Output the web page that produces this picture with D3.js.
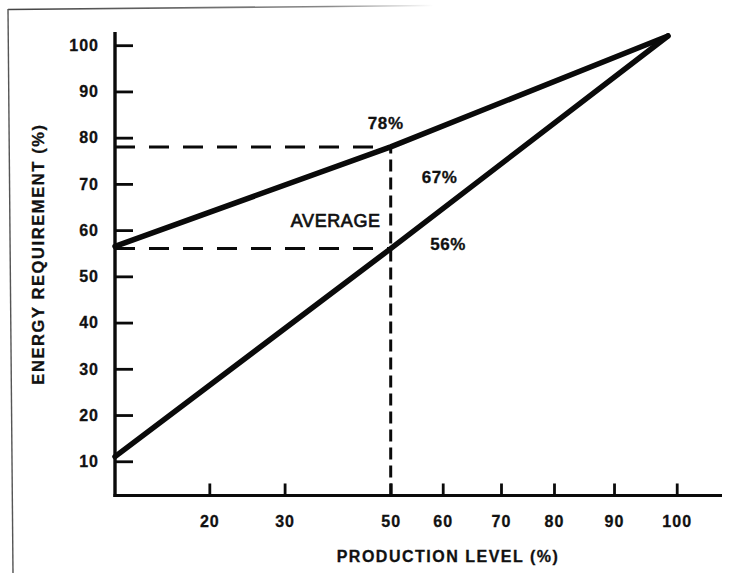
<!DOCTYPE html>
<html>
<head>
<meta charset="utf-8">
<script src="https://cdn.jsdelivr.net/npm/d3@7"></script>
<style>
  html, body { margin: 0; padding: 0; background: #fff; }
  svg { display: block; }
  text { font-family: "Liberation Sans", Arial, Helvetica, sans-serif; fill: #111; stroke: #111; stroke-width: 0.3px; }
</style>
</head>
<body>
<svg id="chart" width="735" height="573"></svg>
<script>
// ---------- data ----------
const yTickValues = [10, 20, 30, 40, 50, 60, 70, 80, 90, 100];
const xTickValues = [20, 30, 50, 60, 70, 80, 90, 100];
// non-uniform (hand drawn) production axis: breakpoints and their relative positions
const xStops     = [10, 20, 30, 50, 60, 70, 80, 90, 100, 107];
const xStopFrac  = [0, 0.1554, 0.2794, 0.4542, 0.5399, 0.6359, 0.7232, 0.8221, 0.9254, 1];

const production  = [10, 50, 98.6];
const energyUpper = [56.5, 78, 102];
const energyLower = [11, 56, 102];

const averageLevel = 50;
const averageUpper = 78;
const averageLower = 56;

const annotationTexts = ["78%", "67%", "56%", "AVERAGE"];
const xAxisTitle = "PRODUCTION LEVEL (%)";
const yAxisTitle = "ENERGY REQUIREMENT (%)";

// ---------- layout ----------
const W = 735, H = 573;
const left = 115, right = 722;
const svg = d3.select("#chart");

const y = d3.scaleLinear().domain([0, 100]).range([507.5, 45.2]);
const x = d3.scaleLinear()
  .domain(xStops)
  .range(xStopFrac.map(f => left + f * (right - left)));

const axisY = y(2.6);
const ink = "#0a0a0a";

// scan frame (top and left edge of the page)
const defs = svg.append("defs");
const grad = defs.append("linearGradient").attr("id", "topfade")
  .attr("x1", "0").attr("x2", "1").attr("y1", "0").attr("y2", "0");
grad.append("stop").attr("offset", "0").attr("stop-color", "#444");
grad.append("stop").attr("offset", "0.75").attr("stop-color", "#888");
grad.append("stop").attr("offset", "1").attr("stop-color", "#fff");
svg.append("path")
  .attr("d", `M8,9.5 L${W * 0.59},5.5`)
  .attr("stroke", "url(#topfade)").attr("stroke-width", 1.6).attr("fill", "none");
svg.append("line")
  .attr("x1", 8).attr("y1", 9).attr("x2", 13).attr("y2", H)
  .attr("stroke", "#555").attr("stroke-width", 1.4);

// ---------- axes ----------
const gY = svg.append("g").attr("transform", `translate(${left},0)`)
  .call(d3.axisRight(y).tickValues(yTickValues).tickSize(18).tickFormat(""));
gY.select(".domain").remove();
gY.selectAll(".tick line").attr("stroke", ink).attr("stroke-width", 2.8);

const gX = svg.append("g").attr("transform", `translate(0,${axisY})`)
  .call(d3.axisTop(x).tickValues(xTickValues).tickSize(12).tickFormat(""));
gX.select(".domain").remove();
gX.selectAll(".tick line").attr("stroke", ink).attr("stroke-width", 2.8);

// axis lines
svg.append("line")
  .attr("x1", left).attr("x2", left).attr("y1", 32).attr("y2", axisY + 1.5)
  .attr("stroke", ink).attr("stroke-width", 3.4);
svg.append("line")
  .attr("x1", left - 1.5).attr("x2", right).attr("y1", axisY).attr("y2", axisY)
  .attr("stroke", ink).attr("stroke-width", 2.8);

// tick labels
svg.append("g").selectAll("text").data(yTickValues).join("text")
  .attr("x", 99).attr("y", d => y(d)).attr("dy", "0.36em")
  .attr("text-anchor", "end")
  .style("font-size", "16px").style("font-weight", "bold").style("letter-spacing", "1px")
  .text(d => d);

svg.append("g").selectAll("text").data(xTickValues).join("text")
  .attr("x", d => x(d) + 0.5).attr("y", 527)
  .attr("text-anchor", "middle")
  .style("font-size", "16px").style("font-weight", "bold").style("letter-spacing", "1px")
  .text(d => d);

// axis titles
svg.append("text")
  .attr("x", 448).attr("y", 562).attr("text-anchor", "middle")
  .style("font-size", "16px").style("font-weight", "bold").style("letter-spacing", "1.5px")
  .text(xAxisTitle);

svg.append("text")
  .attr("transform", `translate(44,254) rotate(-90)`)
  .attr("text-anchor", "middle")
  .style("font-size", "16.5px").style("font-weight", "bold").style("letter-spacing", "1.6px")
  .text(yAxisTitle);

// ---------- dashed guides ----------
svg.append("line")
  .attr("x1", x(averageLevel)).attr("x2", x(averageLevel))
  .attr("y1", axisY).attr("y2", y(averageUpper))
  .attr("stroke", ink).attr("stroke-width", 3).attr("stroke-dasharray", "12,6");
[averageUpper, averageLower].forEach(v => {
  svg.append("line")
    .attr("x1", x(xStops[0])).attr("x2", x(averageLevel))
    .attr("y1", y(v)).attr("y2", y(v))
    .attr("stroke", ink).attr("stroke-width", 3).attr("stroke-dasharray", "20,14");
});

// ---------- lines ----------
const line = d3.line().x(d => x(d[0])).y(d => y(d[1]));
[energyUpper, energyLower].forEach(series => {
  svg.append("path")
    .datum(production.map((p, i) => [p, series[i]]))
    .attr("d", line)
    .attr("fill", "none").attr("stroke", ink).attr("stroke-width", 5.5)
    .attr("stroke-linejoin", "round").attr("stroke-linecap", "round");
});

// ---------- annotations ----------
const ann = svg.append("g").style("font-size", "17px").style("font-weight", "bold")
  .style("letter-spacing", "0.6px");
ann.append("text").attr("x", x(averageLevel) - 5).attr("y", y(averageUpper) - 17.5)
  .attr("text-anchor", "middle").text(annotationTexts[0]);
ann.append("text").attr("x", x(averageLevel) + 31).attr("y", y(67) - 14.5)
  .text(annotationTexts[1]);
ann.append("text").attr("x", x(averageLevel) + 39.5).attr("y", y(averageLower) + 1.5)
  .text(annotationTexts[2]);
ann.append("text").attr("x", x(averageLevel) - 10).attr("y", y(60.7))
  .attr("text-anchor", "end").style("font-weight", "normal").style("letter-spacing", "0.6px")
  .style("font-size", "18px").style("stroke-width", "0.7px")
  .text(annotationTexts[3]);
</script>
</body>
</html>
